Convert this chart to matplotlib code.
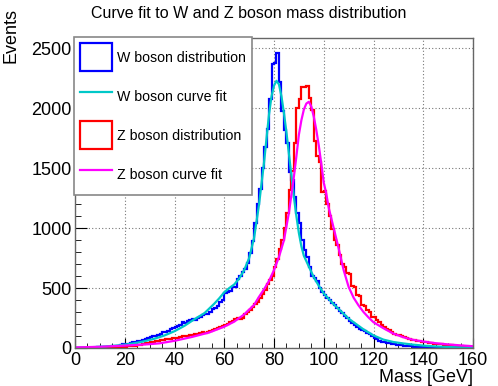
import numpy as np
import matplotlib
matplotlib.use("Agg")
import matplotlib.pyplot as plt
from matplotlib.lines import Line2D
from matplotlib.patches import Patch
from matplotlib.ticker import MultipleLocator

plt.rcParams["font.family"] = ["Liberation Sans", "DejaVu Sans"]

# histogram range: 160 bins of 1 GeV from 0 to 160
mass_lo, mass_hi, n_bins = 0, 160, 160

w_counts = [
    0, 0, 0, 1, 1, 2, 2, 3, 4, 5,
    6, 7, 9, 10, 12, 14, 17, 20, 24, 30,
    33, 36, 41, 46, 52, 60, 62, 68, 74, 82,
    92, 96, 102, 108, 116, 130, 136, 146, 156, 170,
    176, 184, 196, 216, 212, 222, 232, 242, 234, 250,
    262, 272, 286, 282, 302, 322, 336, 352, 382, 402,
    455, 468, 478, 505, 512, 575, 598, 632, 660, 710,
    790, 890, 1040, 1200, 1330, 1500, 1680, 1830, 2080, 2370,
    2380, 2464, 2220, 1980, 1820, 1710, 1470, 1400, 1260, 1130,
    1040, 900, 820, 760, 680, 600, 585, 560, 500, 470,
    440, 417, 400, 375, 355, 333, 312, 292, 270, 250,
    228, 208, 190, 175, 160, 150, 140, 128, 118, 100,
    85, 72, 60, 50, 46, 42, 40, 35, 30, 27,
    25, 22, 20, 18, 16, 14, 12, 10, 9, 8,
    7, 6, 5, 5, 4, 4, 3, 3, 2, 2,
    2, 1, 1, 1, 1, 0, 0, 0, 0, 0,
]

z_counts = [
    0, 0, 0, 0, 0, 1, 1, 1, 2, 2,
    3, 3, 4, 5, 6, 6, 7, 8, 9, 10,
    12, 14, 16, 18, 20, 24, 28, 32, 38, 44,
    50, 54, 58, 62, 65, 70, 72, 75, 78, 80,
    83, 86, 90, 96, 100, 98, 106, 112, 118, 115,
    125, 130, 128, 136, 140, 150, 160, 166, 176, 186,
    192, 200, 215, 226, 240, 250, 246, 252, 282, 300,
    318, 340, 370, 382, 420, 450, 483, 530, 570, 600,
    680, 740, 830, 900, 1000, 1130, 1320, 1480, 1710, 2000,
    2080, 2180, 2180, 2185, 2090, 1990, 1730, 1600, 1550, 1300,
    1310, 1200, 1100, 990, 900, 860, 780, 700, 680, 630,
    620, 520, 510, 440, 430, 360, 350, 320, 300, 262,
    258, 230, 220, 195, 175, 160, 150, 132, 120, 110,
    108, 100, 90, 80, 74, 68, 64, 60, 55, 52,
    50, 47, 44, 40, 37, 35, 33, 30, 28, 26,
    25, 22, 20, 18, 16, 14, 12, 10, 9, 8,
]

w_fit_mass = [0, 4, 8, 12, 16, 20, 24, 28, 32, 36, 40, 44, 48, 52, 54, 56, 58,
              60, 62, 64, 66, 68, 70, 72, 74, 76, 77, 78, 79, 80, 81, 82, 83,
              84, 85, 86, 87, 88, 89, 90, 91, 92, 94, 96, 98, 100, 102, 104,
              106, 108, 110, 113, 116, 120, 124, 128, 132, 136, 140, 145, 150,
              155, 160]
w_fit_vals = [3, 5, 8, 13, 19, 28, 40, 57, 78, 105, 140, 185, 240, 290, 330,
              370, 415, 465, 500, 530, 580, 650, 750, 920, 1200, 1550, 1750,
              1950, 2100, 2190, 2230, 2200, 2100, 1960, 1800, 1620, 1440, 1260,
              1100, 960, 850, 770, 680, 590, 520, 455, 410, 365, 325, 285, 245,
              200, 155, 105, 70, 50, 38, 28, 20, 13, 8, 5, 3]

z_fit_mass = [0, 10, 20, 30, 34, 40, 47, 54, 60, 64, 68, 72, 74, 76, 78, 80,
              82, 84, 86, 88, 89, 90, 91, 92, 93, 94, 95, 96, 97, 98, 99, 100,
              101, 102, 104, 106, 108, 110, 112, 114, 116, 118, 120, 124, 128,
              132, 136, 140, 145, 150, 155, 160]
z_fit_vals = [5, 10, 20, 32, 39, 60, 92, 130, 178, 220, 280, 360, 428, 490,
              560, 650, 760, 900, 1130, 1430, 1600, 1780, 1900, 1990, 2040,
              2055, 2015, 1930, 1820, 1690, 1540, 1380, 1290, 1170, 1000, 830,
              650, 510, 420, 355, 300, 255, 215, 165, 120, 90, 68, 54, 40, 30,
              22, 15]

legend_labels = ["W boson distribution", "W boson curve fit",
                 "Z boson distribution", "Z boson curve fit"]

W, H = 498, 386
fig = plt.figure(figsize=(W / 100, H / 100), dpi=100)
ax = fig.add_axes([75 / W, 38 / H, 398 / W, 310 / H])

edges = np.linspace(mass_lo, mass_hi, n_bins + 1)
ax.stairs(w_counts, edges, color="#0000ff", lw=1.6, baseline=None)
ax.plot(w_fit_mass, w_fit_vals, color="#00c8c8", lw=1.6)
ax.stairs(z_counts, edges, color="#ff0000", lw=1.6, baseline=None)
ax.plot(z_fit_mass, z_fit_vals, color="#ff00ff", lw=1.6)

ax.set_xlim(mass_lo, mass_hi)
ax.set_ylim(0, 1.05 * max(w_counts))
ax.xaxis.set_major_locator(MultipleLocator(20))
ax.xaxis.set_minor_locator(MultipleLocator(5))
ax.yaxis.set_major_locator(MultipleLocator(500))
ax.yaxis.set_minor_locator(MultipleLocator(100))
ax.grid(True, which="major", color="#777777", lw=0.8, linestyle=(0, (1, 2)))
ax.set_axisbelow(True)

ax.tick_params(which="both", direction="in", top=False, right=False,
               labelsize=13, color="black")
ax.tick_params(axis="x", which="major", length=7, pad=3)
ax.tick_params(axis="x", which="minor", length=3.5)
ax.tick_params(axis="y", which="major", length=8.6, pad=2.5)
ax.tick_params(axis="y", which="minor", length=4.3)
for s in ax.spines.values():
    s.set_color("#666666")
    s.set_linewidth(1.0)

handles = [
    Patch(facecolor="white", edgecolor="#0000ff", lw=1.6),
    Line2D([], [], color="#00c8c8", lw=1.6),
    Patch(facecolor="white", edgecolor="#ff0000", lw=1.6),
    Line2D([], [], color="#ff00ff", lw=1.6),
]
leg = ax.legend(handles, legend_labels, loc="upper left",
                bbox_to_anchor=(-0.0025, 1.003), borderaxespad=0, fontsize=10.2,
                fancybox=False, framealpha=1, edgecolor="#888888",
                handlelength=2.2, handleheight=2.66, handletextpad=0.4,
                labelspacing=0.78, borderpad=0.45)
leg.get_frame().set_linewidth(1.2)

fig.text(248.5 / W, 1 - 14 / H, "Curve fit to W and Z boson mass distribution",
         ha="center", va="center", fontsize=11.5)
fig.text(473 / W, 1 - 378 / H, "Mass [GeV]", ha="right", va="center",
         fontsize=13)
fig.text(11 / W, 1 - 8 / H, "Events", rotation=90, ha="center", va="top",
         fontsize=13)

fig.savefig("out.png", dpi=100)
